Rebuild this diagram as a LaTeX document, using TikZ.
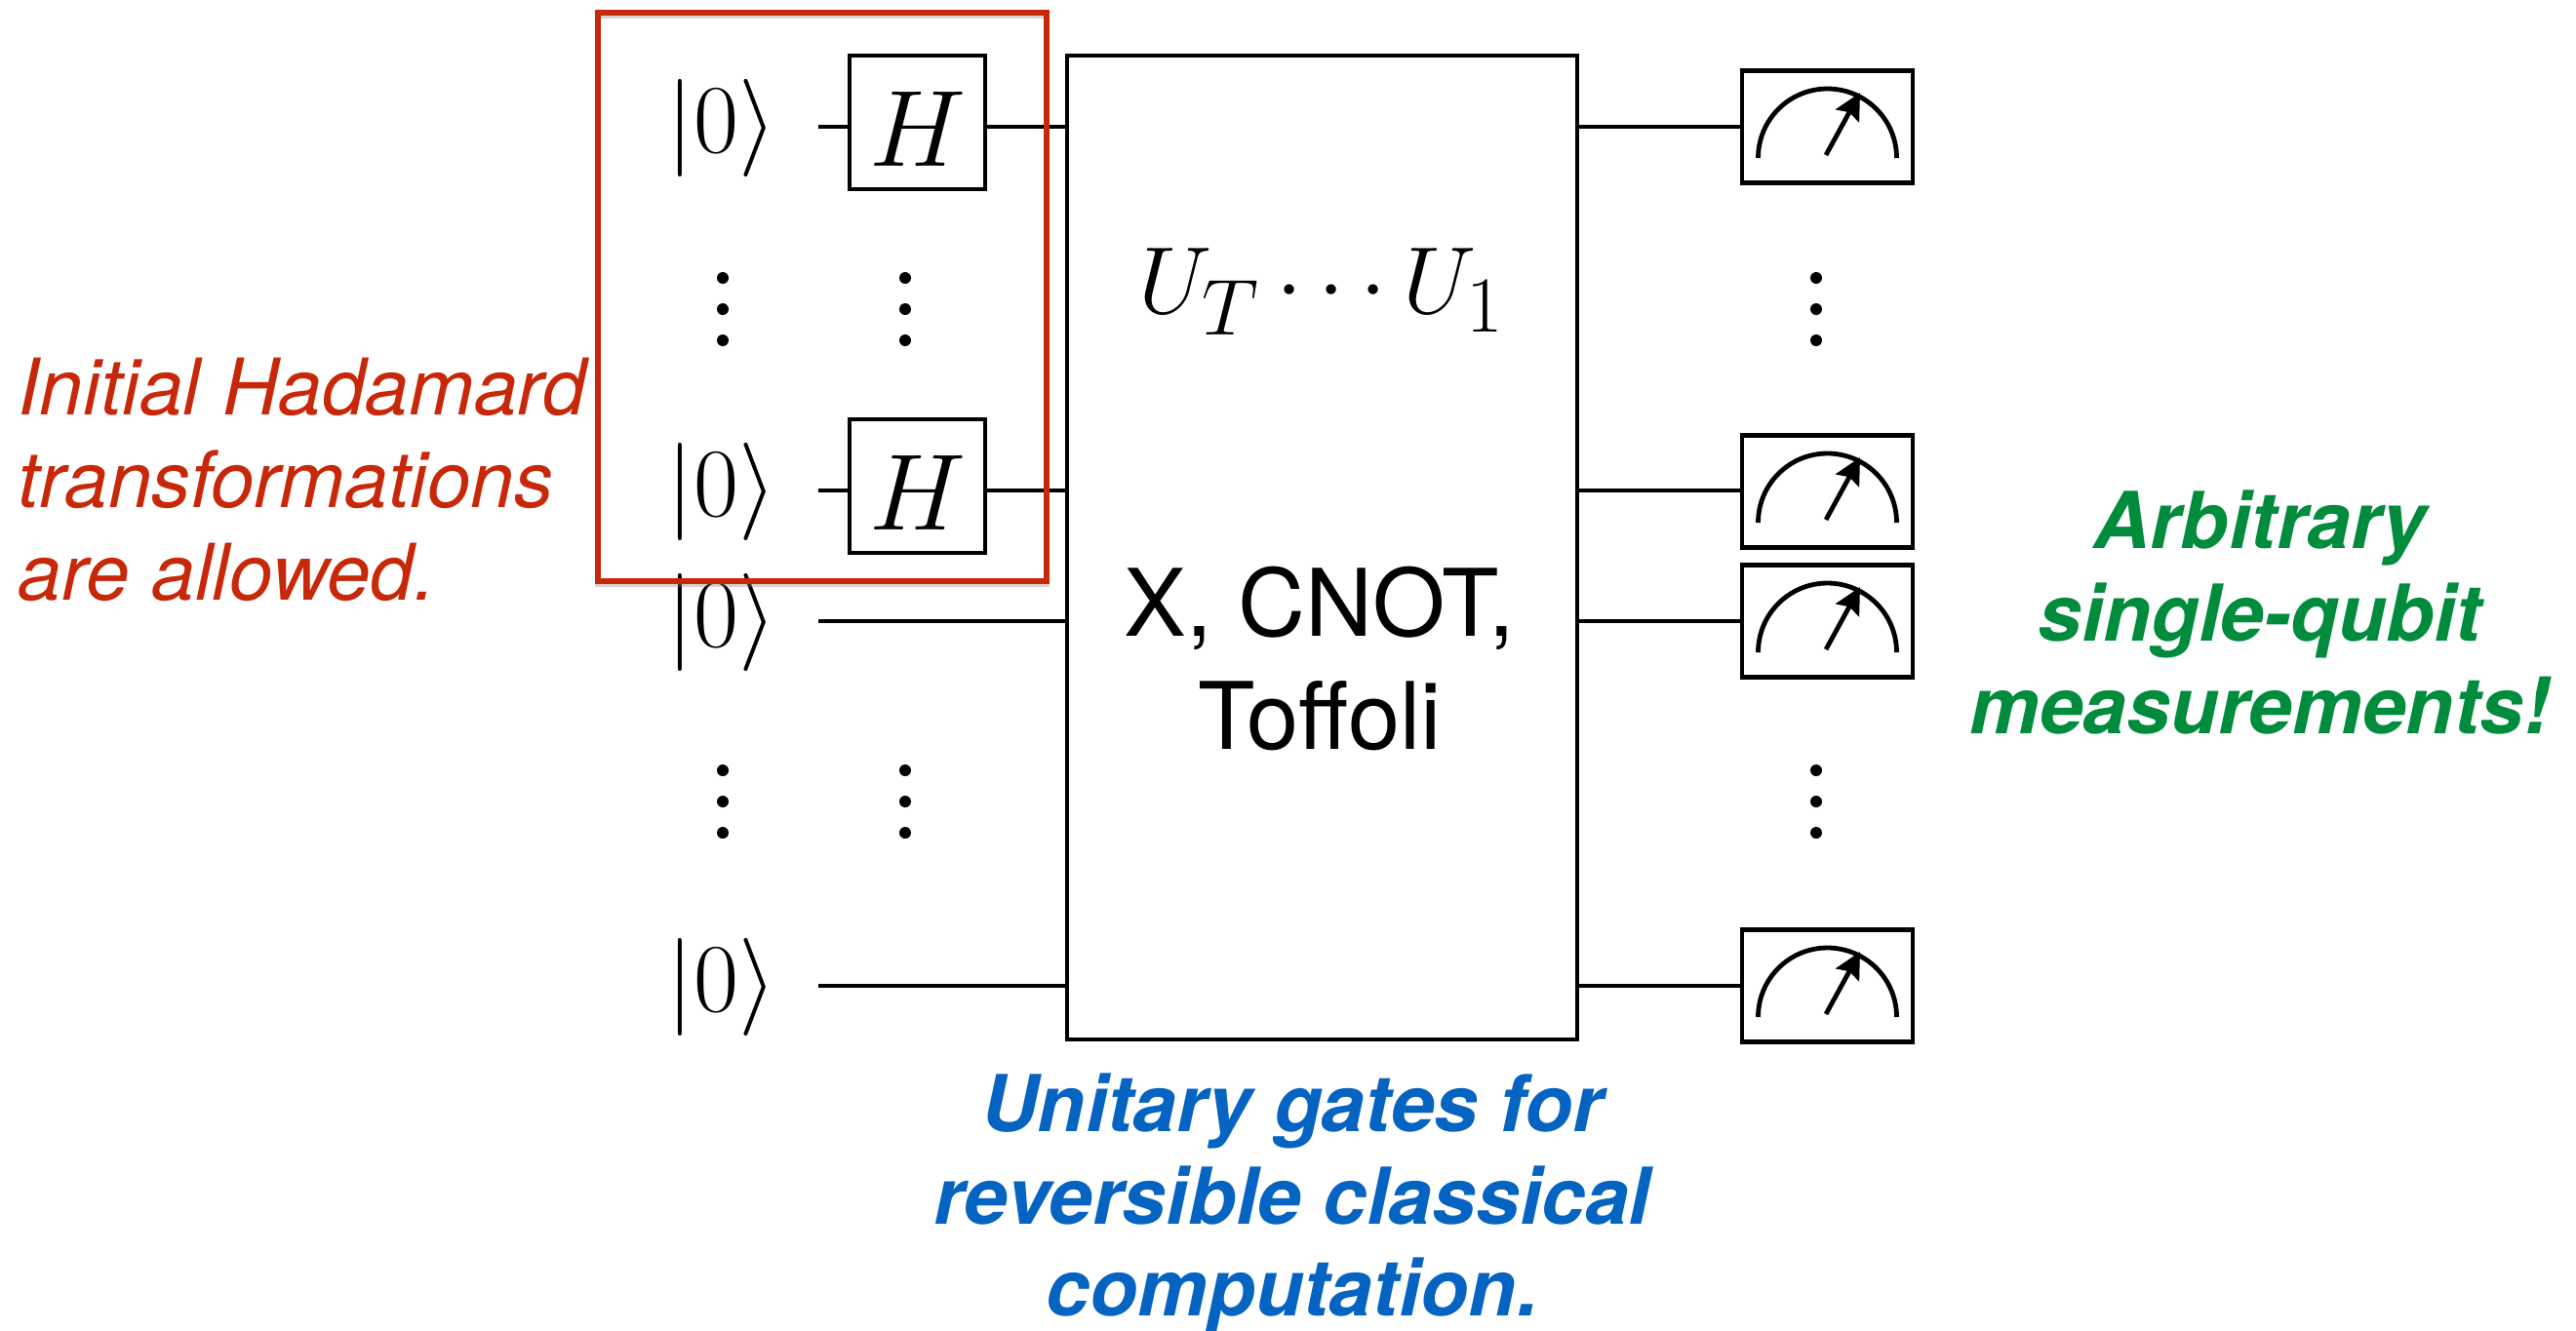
\documentclass[tikz,border=0pt]{standalone}
\usepackage{fontspec}
\usepackage{amsmath}
\usetikzlibrary{arrows.meta}
\newfontfamily\helv{TeX Gyre Heros}
\definecolor{noteRed}{RGB}{200,40,10}
\definecolor{noteBlue}{RGB}{5,99,193}
\definecolor{noteGreen}{RGB}{0,140,60}
\newcommand{\ketzero}{\scalebox{1.145}{$|0\rangle$}}
\newcommand{\gateH}{\scalebox{1.274}{$H$}}
\tikzset{
  wire/.style={line width=0.048cm},
  ket/.style={inner sep=0pt, font=\fontsize{24.88}{30}\selectfont},
  gatebox/.style={draw, line width=0.048cm, inner sep=0pt, minimum width=1.39cm, minimum height=1.37cm, text height=25.5pt, text depth=0pt, font=\fontsize{24.88}{30}\selectfont},
  meterbox/.style={draw, line width=0.048cm, inner sep=0pt, minimum width=1.75cm, minimum height=1.15cm},
  dot/.style={fill=black},
  note/.style={inner sep=0pt, font=\helv\fontsize{22.8}{27}\selectfont},
  boldnote/.style={inner sep=0pt, align=center, font=\helv\fontsize{22.9}{27}\selectfont},
}
\begin{document}
\begin{tikzpicture}
            \useasboundingbox (0,0) rectangle (26.41,-13.64);

            \coordinate (w1) at (8.39,-1.30);
            \coordinate (w2) at (8.39,-5.03);
            \coordinate (w3) at (8.39,-6.37);
            \coordinate (w4) at (8.39,-10.11);

            \node[draw, line width=0.048cm, minimum width=5.23cm, minimum height=10.09cm, inner sep=0pt] (main) at (13.555,-5.615) {};
            \node[inner sep=0pt, font=\fontsize{24.88}{30}\selectfont] (unitary) at (13.55,-2.99) {\scalebox{1.117}{$U_T\cdots U_1$}};
            \node[inner sep=0pt, align=center, font=\helv\fontsize{27.2}{33}\selectfont] (gates) at (13.53,-6.75) {X, CNOT,\\Toffoli};

            \node[ket] (k1) at (7.40,-1.31) {\ketzero};
            \node[ket] (k2) at (7.40,-5.04) {\ketzero};
            \node[ket] (k3) at (7.40,-6.38) {\ketzero};
            \node[ket] (k4) at (7.40,-10.12) {\ketzero};

            \node[gatebox] (h1) at (9.405,-1.255) {\gateH};
            \node[gatebox] (h2) at (9.405,-4.985) {\gateH};

            \node[meterbox] (m1) at (18.735,-1.30) {};
            \node[meterbox] (m2) at (18.735,-5.04) {};
            \node[meterbox] (m3) at (18.735,-6.37) {};
            \node[meterbox] (m4) at (18.735,-10.11) {};

            \foreach \m in {m1,m2,m3,m4} {
              \draw[wire] ([shift={(-0.71,-0.32)}]\m.center) arc (180:0:0.71);
              \draw[wire, -{Stealth[length=0.27cm, width=0.27cm, inset=0.04cm]}] ([shift={(-0.015,-0.29)}]\m.center) -- ([shift={(0.335,0.35)}]\m.center);
            }

            \draw[wire] (w1) -- (w1 -| h1.west);
            \draw[wire] (w1 -| h1.east) -- (w1 -| main.west);
            \draw[wire] (w2) -- (w2 -| h2.west);
            \draw[wire] (w2 -| h2.east) -- (w2 -| main.west);
            \draw[wire] (w3) -- (w3 -| main.west);
            \draw[wire] (w4) -- (w4 -| main.west);
            \draw[wire] (w1 -| main.east) -- (w1 -| m1.west);
            \draw[wire] (w2 -| main.east) -- (w2 -| m2.west);
            \draw[wire] (w3 -| main.east) -- (w3 -| m3.west);
            \draw[wire] (w4 -| main.east) -- (w4 -| m4.west);

            \foreach \x in {7.41,9.28,18.62} {
              \foreach \y in {-2.85,-3.17,-3.49,-7.90,-8.22,-8.54} {
                \fill[dot] (\x,\y) circle (0.06);
              }
            }

            \draw[gray, opacity=0.35, line width=0.055cm] (6.13,-0.16) rectangle (10.73,-5.99);
            \draw[noteRed, line width=0.055cm] (6.13,-0.13) rectangle (10.73,-5.96);

            \node[note, noteRed, align=left, anchor=west] (hadamard) at (0.18,-4.92) {\itshape Initial Hadamard\\\itshape transformations\\\itshape are allowed.};
            \node[boldnote, noteGreen] (measure) at (23.17,-6.28) {\bfseries\itshape Arbitrary\\\bfseries\itshape single-qubit\\\bfseries\itshape measurements!};
            \node[boldnote, noteBlue] (classical) at (13.25,-12.34) {\bfseries\itshape Unitary gates for\\\bfseries\itshape reversible classical\\\bfseries\itshape computation.};
\end{tikzpicture}
\end{document}
